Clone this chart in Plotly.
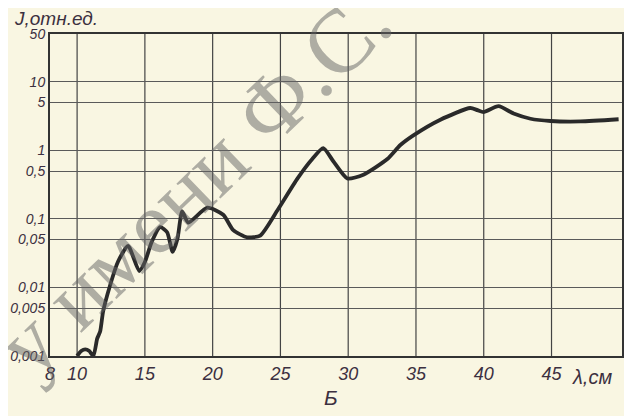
import plotly.graph_objects as go

# wavelength, cm
wavelength = [10.0, 10.3, 10.6, 10.9, 11.2, 11.48, 11.7, 11.92, 12.43, 13.03, 13.76, 14.58, 15.0, 15.5,
              16.13, 16.64, 17.05, 17.4, 17.75, 18.2, 19.6, 20.78, 21.52, 22.55, 23.51, 24.77,
              26.24, 27.35, 28.16, 28.9, 29.94, 31.12, 32.89, 33.85, 34.81, 36.8, 39.0, 39.54,
              39.98, 41.09, 42.2, 43.45, 44.93, 47.14, 49.95]
# intensity, rel. units
intensity = [0.001, 0.00118, 0.00125, 0.00118, 0.001, 0.00179, 0.00227, 0.00447, 0.0107, 0.0241,
             0.0405, 0.0174, 0.0235, 0.046, 0.0759, 0.064, 0.033, 0.051, 0.129, 0.0887, 0.146,
             0.115, 0.0686, 0.054, 0.0573, 0.133, 0.385, 0.751, 1.08, 0.695, 0.389, 0.443,
             0.751, 1.2, 1.66, 2.81, 4.16, 3.87, 3.63, 4.42, 3.45, 2.9, 2.69, 2.65, 2.85]

x_ticks = [8, 10, 15, 20, 25, 30, 35, 40, 45]
x_grid = [10, 15, 20, 25, 30, 35, 40, 45]
y_ticks = [0.001, 0.005, 0.01, 0.05, 0.1, 0.5, 1, 5, 10, 50]
y_labels = ["0,001", "0,005", "0,01", "0,05", "0,1", "0,5", "1", "5", "10", "50"]

bg = "rgb(249,246,226)"
ink = "#3c3040"
grid = "#5a5a5a"
fnt = "Liberation Sans, Arial, sans-serif"

fig = go.Figure()
fig.add_trace(go.Scatter(x=wavelength, y=intensity, mode="lines",
                         line=dict(color="#2a2a2a", width=3.8, shape="spline", smoothing=0.6),
                         showlegend=False, hoverinfo="skip"))

fig.update_layout(
    width=624, height=408,
    margin=dict(l=42, r=10, t=26, b=60),
    paper_bgcolor=bg, plot_bgcolor=bg,
    font=dict(family=fnt, color=ink, size=16),
    xaxis=dict(range=[8, 50.2], tickvals=x_ticks, ticktext=[str(v) for v in x_ticks],
               showgrid=False, zeroline=False, automargin=False,
               showline=True, linecolor="#333", linewidth=2, mirror=True,
               ticks="", tickfont=dict(family=fnt, size=18, style="italic", color=ink)),
    yaxis=dict(type="log", range=[-3, 1.699], tickvals=y_ticks, ticktext=y_labels,
               showgrid=True, gridcolor=grid, gridwidth=1, zeroline=False, automargin=False,
               showline=True, linecolor="#333", linewidth=2, mirror=True,
               ticks="", ticklabelstandoff=0,
               tickfont=dict(family=fnt, size=14, style="italic", color=ink)),
)

for gx in x_grid:
    fig.add_shape(type="line", xref="x", yref="paper", x0=gx, x1=gx, y0=0, y1=1,
                  line=dict(color="#444", width=1.2), layer="below")

fig.add_annotation(text="J,отн.ед.", xref="paper", yref="paper", x=-0.066, y=1.0,
                   xanchor="left", yanchor="bottom", yshift=3, showarrow=False,
                   font=dict(family=fnt, size=19, style="italic", color=ink))
fig.add_annotation(text="λ,см", xref="x", yref="paper", x=48.0, y=0,
                   xanchor="center", yanchor="top", yshift=-8, showarrow=False,
                   font=dict(family=fnt, size=20, style="italic", color=ink))
fig.add_annotation(text="Б", xref="x", yref="paper", x=28.7, y=0,
                   xanchor="center", yanchor="top", yshift=-28, showarrow=False,
                   font=dict(family=fnt, size=21, style="italic", color=ink))
# library watermark
fig.add_annotation(text="у имени Ф.С.", xref="paper", yref="paper", x=0.25, y=0.54,
                   xanchor="center", yanchor="middle",
                   showarrow=False, textangle=-44,
                   font=dict(family="Liberation Serif, serif", size=90, color="rgba(100,100,100,0.5)"))

fig.write_html("out.html")
